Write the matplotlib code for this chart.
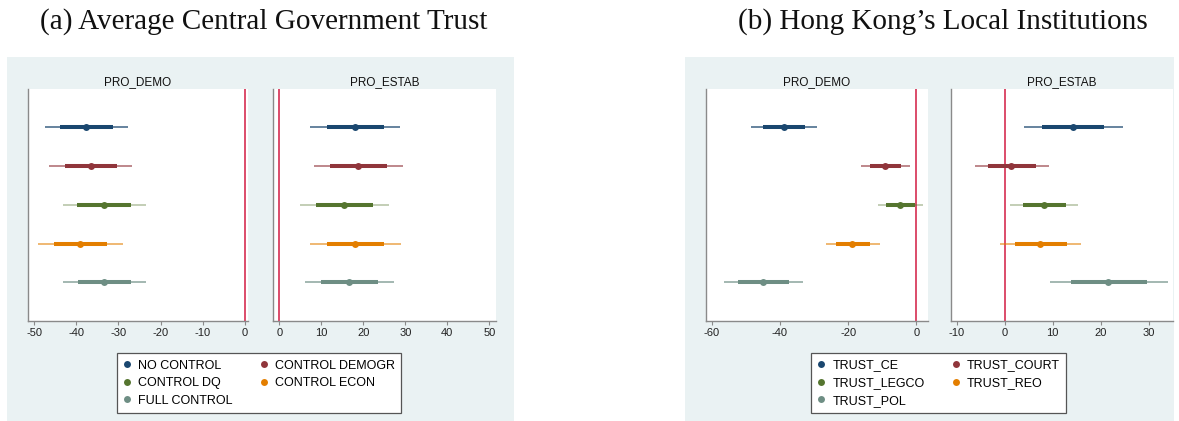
import matplotlib
matplotlib.use("Agg")
import matplotlib.pyplot as plt
from matplotlib.patches import Rectangle
from matplotlib.lines import Line2D

# ---- series styling order ----
colors = ["#1a476f", "#90353b", "#55752f", "#e37e00", "#6e8e84"]
thin_alpha = [0.85, 0.75, 0.45, 0.7, 0.8]

labels_a = ["NO CONTROL", "CONTROL DEMOGR", "CONTROL DQ", "CONTROL ECON", "FULL CONTROL"]
labels_b = ["TRUST_CE", "TRUST_COURT", "TRUST_LEGCO", "TRUST_REO", "TRUST_POL"]

# ---- (a) Average central government trust ----
a_demo_est  = [-37.6, -36.6, -33.5, -39.1, -33.4]
a_demo_lo95 = [-47.5, -46.4, -43.2, -49.0, -43.1]
a_demo_hi95 = [-27.8, -26.7, -23.5, -29.0, -23.5]
a_demo_lo90 = [-43.8, -42.7, -39.7, -45.3, -39.5]
a_demo_hi90 = [-31.3, -30.4, -27.1, -32.6, -27.1]

a_estab_est  = [17.9, 18.7, 15.4, 18.0, 16.5]
a_estab_lo95 = [7.3, 8.3, 4.9, 7.3, 6.1]
a_estab_hi95 = [28.7, 29.4, 26.0, 28.9, 27.2]
a_estab_lo90 = [11.3, 12.1, 8.8, 11.3, 9.9]
a_estab_hi90 = [24.8, 25.6, 22.3, 25.0, 23.4]

# ---- (b) Hong Kong's local institutions ----
b_demo_est  = [-38.8, -9.3, -4.8, -18.8, -44.9]
b_demo_lo95 = [-48.4, -16.2, -11.1, -26.4, -56.3]
b_demo_hi95 = [-29.1, -2.0, 1.9, -10.7, -33.1]
b_demo_lo90 = [-44.9, -13.6, -8.8, -23.5, -52.1]
b_demo_hi90 = [-32.6, -4.6, -0.5, -13.6, -37.4]

b_estab_est  = [14.3, 1.4, 8.2, 7.4, 21.6]
b_estab_lo95 = [4.1, -6.25, 1.2, -1.0, 9.4]
b_estab_hi95 = [24.6, 9.2, 15.3, 16.0, 34.0]
b_estab_lo90 = [7.8, -3.5, 3.75, 2.1, 13.8]
b_estab_hi90 = [20.8, 6.5, 12.8, 12.9, 29.6]

W, H = 1179, 421
fig = plt.figure(figsize=(W / 100, H / 100), dpi=100)
fig.patch.set_facecolor("white")

def fx(px):
    return px / W

def fy(py):
    return 1 - py / H

# light panel backgrounds behind each group of plots
for x0, x1 in [(7, 514), (685, 1174)]:
    fig.patches.append(Rectangle((fx(x0), 0), fx(x1 - x0), fy(57),
                                 transform=fig.transFigure, facecolor="#eaf2f3",
                                 edgecolor="none", zorder=-10))

title_font = dict(family="Liberation Serif", fontsize=21, color="#111111")
fig.text(fx(264), fy(22), "(a) Average Central Government Trust", ha="center", va="center", **title_font)
fig.text(fx(943), fy(22), "(b) Hong Kong\u2019s Local Institutions", ha="center", va="center", **title_font)

sans = "Liberation Sans"

def add_axes(x0, x1, y0=88.5, y1=321):
    ax = fig.add_axes([fx(x0), fy(y1), fx(x1 - x0), (y1 - y0) / H])
    ax.set_zorder(2)
    return ax

def draw_panel(ax, title, est, lo95, hi95, lo90, hi90, xlim, ticks):
    ax.set_facecolor("white")
    for i in range(len(est)):
        y = i + 1
        ax.plot([lo95[i], hi95[i]], [y, y], color=colors[i], lw=1.1,
                alpha=thin_alpha[i], solid_capstyle="butt", zorder=2)
        ax.plot([lo90[i], hi90[i]], [y, y], color=colors[i], lw=2.9,
                solid_capstyle="butt", zorder=3)
        ax.plot([est[i]], [y], "o", color=colors[i], ms=5, mew=0, zorder=4)
    ax.axvline(0, color="#d62d52", lw=1.2, zorder=1)
    ax.set_xlim(*xlim)
    ax.set_ylim(6, 0)
    ax.set_xticks(ticks)
    ax.set_xticklabels([str(t) for t in ticks], fontsize=8, family=sans, color="#222222")
    ax.set_yticks([])
    for s in ["top", "right"]:
        ax.spines[s].set_visible(False)
    for s in ["left", "bottom"]:
        ax.spines[s].set_color("#8a8a8a")
        ax.spines[s].set_linewidth(1.0)
    ax.tick_params(axis="x", length=3, width=0.8, color="#8a8a8a", pad=2)
    ax.set_title(title, fontsize=8.5, family=sans, pad=2, color="#111111")

ax1 = add_axes(27.7, 248)
draw_panel(ax1, "PRO_DEMO", a_demo_est, a_demo_lo95, a_demo_hi95, a_demo_lo90, a_demo_hi90,
           (-51.5, 0.7), [-50, -40, -30, -20, -10, 0])
ax2 = add_axes(272.7, 496)
draw_panel(ax2, "PRO_ESTAB", a_estab_est, a_estab_lo95, a_estab_hi95, a_estab_lo90, a_estab_hi90,
           (-1.6, 51.6), [0, 10, 20, 30, 40, 50])
ax3 = add_axes(705.7, 928.3)
draw_panel(ax3, "PRO_DEMO", b_demo_est, b_demo_lo95, b_demo_hi95, b_demo_lo90, b_demo_hi90,
           (-61.7, 3.5), [-60, -40, -20, 0])
ax4 = add_axes(951, 1173)
draw_panel(ax4, "PRO_ESTAB", b_estab_est, b_estab_lo95, b_estab_hi95, b_estab_lo90, b_estab_hi90,
           (-11.2, 35.1), [-10, 0, 10, 20, 30])

def add_legend(labels, x0, y_top):
    handles = [Line2D([], [], ls="none", marker="o", ms=5, mew=0, color=c) for c in colors]
    order = [0, 2, 4, 1, 3]
    leg = fig.legend([handles[i] for i in order], [labels[i] for i in order],
                     ncol=2, loc="upper left", bbox_to_anchor=(fx(x0), fy(y_top)),
                     frameon=True, fancybox=False, framealpha=1.0,
                     prop=dict(family=sans, size=9),
                     handlelength=0.6, handletextpad=0.6, columnspacing=2.2,
                     labelspacing=0.45, borderpad=0.5, borderaxespad=0)
    fr = leg.get_frame()
    fr.set_edgecolor("#555555")
    fr.set_linewidth(0.9)
    fr.set_facecolor("white")
    leg.set_zorder(3)
    return leg

add_legend(labels_a, 116.7, 353.3)
add_legend(labels_b, 811, 353.3)

fig.savefig("out.png", dpi=100, facecolor=fig.get_facecolor())
